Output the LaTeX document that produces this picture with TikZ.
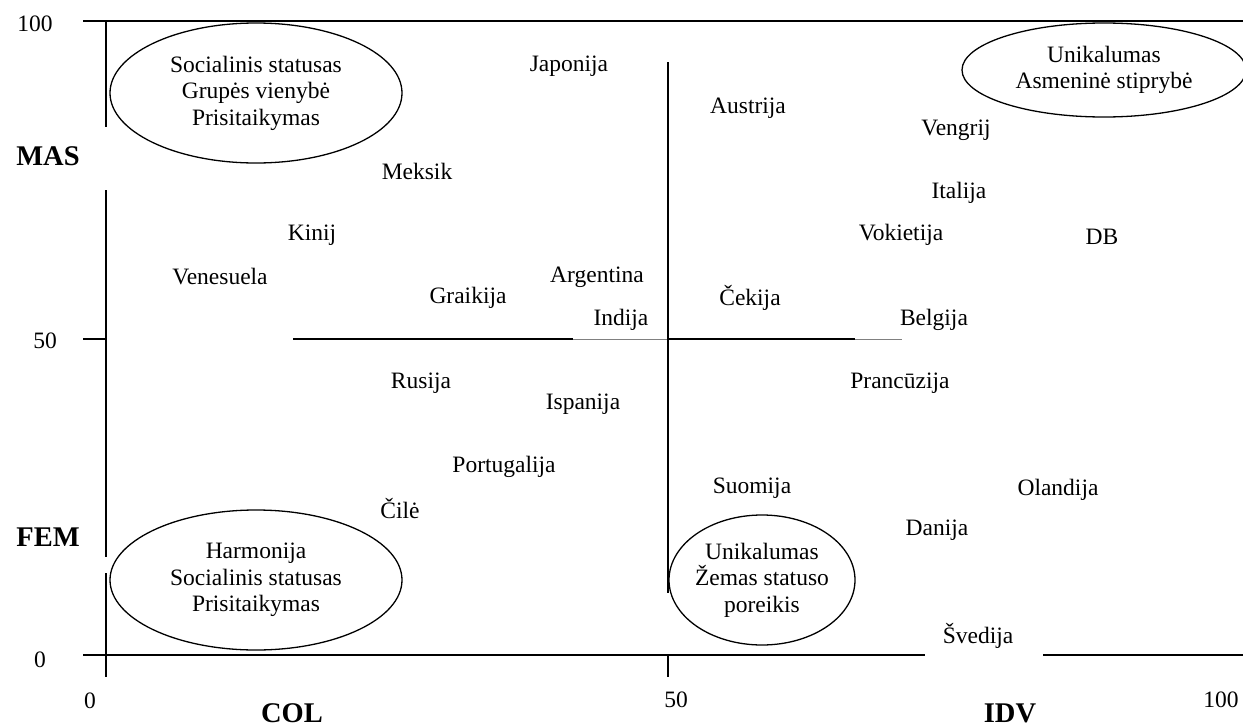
\documentclass[tikz,border=0pt]{standalone}
\usepackage{fontspec}
\setmainfont{Liberation Serif}
\begin{document}
\begin{tikzpicture}[x=1pt,y=-1pt,
  lbl/.style={inner sep=0pt, font=\fontsize{23.5}{26.5}\selectfont},
  axlbl/.style={inner sep=0pt, font=\fontsize{28.5}{30}\selectfont\bfseries},
  ovaltext/.style={inner sep=0pt, align=center, font=\fontsize{23.5}{26.5}\selectfont},
  oval/.style={line width=1.3pt},
  axis/.style={line width=2pt},
  faint/.style={line width=1pt, gray}]
\useasboundingbox (0,0) rectangle (1243,726);

% axes and quadrant lines
\coordinate (tl) at (83,21);   \coordinate (tr) at (1243,21);
\coordinate (v1) at (106,21);  \coordinate (v2) at (106,127);
\coordinate (v3) at (106,190); \coordinate (v4) at (106,557);
\coordinate (v5) at (106,573); \coordinate (v6) at (106,677);
\coordinate (tk1) at (83,339); \coordinate (tk2) at (106,339);
\coordinate (h1) at (293,339); \coordinate (h2) at (573,339);
\coordinate (h3) at (668,339); \coordinate (h4) at (855,339);
\coordinate (h5) at (902,339);
\coordinate (m1) at (668,62);  \coordinate (m2) at (668,593);
\coordinate (m3) at (668,655); \coordinate (m4) at (668,677);
\coordinate (b1) at (83,655);  \coordinate (b2) at (925,655);
\coordinate (b3) at (1043,655); \coordinate (b4) at (1243,655);

\draw[axis] (tl) -- (tr);
\draw[axis] (v1) -- (v2);
\draw[axis] (v3) -- (v4);
\draw[axis] (v5) -- (v6);
\draw[axis] (tk1) -- (tk2);
\draw[axis] (h1) -- (h2);
\draw[faint] (h2) -- (h3);
\draw[axis] (h3) -- (h4);
\draw[faint] (h4) -- (h5);
\draw[axis] (m1) -- (m2);
\draw[axis] (m3) -- (m4);
\draw[axis] (b1) -- (b2);
\draw[axis] (b3) -- (b4);

% axis labels
\node[lbl] (y100) at (35,24) {100};
\node[lbl] (y50) at (45,341) {50};
\node[lbl] (y0) at (40,660) {0};
\node[axlbl] (mas) at (48,156) {MAS};
\node[axlbl] (fem) at (48,537) {FEM};
\node[lbl] (x0) at (90,701) {0};
\node[lbl] (x50) at (676,700) {50};
\node[lbl] (x100) at (1221,700) {100};
\node[axlbl] (col) at (292,713) {COL};
\node[axlbl] (idv) at (1010,713) {IDV};

% value groups
\node[ovaltext] (g1) at (256,93) {Socialinis statusas\\Grupės vienybė\\Prisitaikymas};
\draw[oval] (g1) ellipse [x radius=146pt, y radius=70pt];
\node[ovaltext] (g2) at (1104,70) {Unikalumas\\Asmeninė stiprybė};
\draw[oval] (g2) ellipse [x radius=142pt, y radius=47pt];
\node[ovaltext] (g3) at (256,580) {Harmonija\\Socialinis statusas\\Prisitaikymas};
\draw[oval] (g3) ellipse [x radius=146pt, y radius=70pt];
\node[ovaltext] (g4) at (762,580) {Unikalumas\\Žemas statuso\\poreikis};
\draw[oval] (g4) ellipse [x radius=93pt, y radius=65pt];

% countries
\node[lbl] (jp) at (569,66) {Japonija};
\node[lbl] (at) at (748,108) {Austrija};
\node[lbl] (hu) at (956,130) {Vengrij};
\node[lbl] (mx) at (417,171) {Meksik};
\node[lbl] (it) at (959,193) {Italija};
\node[lbl] (cn) at (312,235) {Kinij};
\node[lbl] (de) at (901,235) {Vokietija};
\node[lbl] (uk) at (1102,237) {DB};
\node[lbl] (ve) at (220,277) {Venesuela};
\node[lbl] (ar) at (597,277) {Argentina};
\node[lbl] (gr) at (468,298) {Graikija};
\node[lbl] (cz) at (750,298) {Čekija};
\node[lbl] (in) at (621,320) {Indija};
\node[lbl] (be) at (934,320) {Belgija};
\node[lbl] (ru) at (421,383) {Rusija};
\node[lbl] (fr) at (900,383) {Prancūzija};
\node[lbl] (es) at (583,404) {Ispanija};
\node[lbl] (pt) at (504,467) {Portugalija};
\node[lbl] (fi) at (752,488) {Suomija};
\node[lbl] (nl) at (1058,490) {Olandija};
\node[lbl] (cl) at (400,509) {Čilė};
\node[lbl] (dk) at (937,530) {Danija};
\node[lbl] (se) at (978,636) {Švedija};
\end{tikzpicture}
\end{document}
